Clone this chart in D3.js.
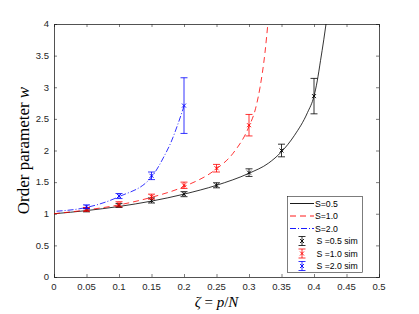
<!DOCTYPE html>
<html>
<head>
<meta charset="utf-8">
<script src="https://cdn.jsdelivr.net/npm/d3@7"></script>
<style>
body { margin: 0; background: #fff; }
svg text { font-family: "Liberation Sans", Arial, sans-serif; }
</style>
</head>
<body>
<svg id="chart" width="419" height="314"></svg>
<script>
// theory curves
var curveS05 = [[0,1],[0.05,1.05],[0.1,1.115],[0.15,1.2],[0.2,1.31],[0.25,1.45],[0.3,1.64],[0.33,1.8],[0.35,1.98],[0.37,2.24],[0.39,2.6],[0.4,2.86],[0.405,3.1],[0.41,3.42],[0.415,3.75],[0.4185,4]];
var curveS10 = [[0,1],[0.05,1.06],[0.1,1.14],[0.15,1.26],[0.2,1.43],[0.25,1.71],[0.275,1.95],[0.3,2.38],[0.31,2.66],[0.317,3.0],[0.3245,3.54],[0.329,4]];
var curveS20 = [[0.004,1.04],[0.05,1.1],[0.1,1.27],[0.15,1.58],[0.17,1.92],[0.18,2.13],[0.19,2.4],[0.2,2.7]];

// simulation points
var simZeta = [0.05, 0.1, 0.15, 0.2, 0.25, 0.3, 0.35, 0.4];
var simS05 = [1.06, 1.13, 1.21, 1.31, 1.45, 1.65, 2.0, 2.86];
var errS05 = [0.03, 0.03, 0.04, 0.04, 0.04, 0.06, 0.1, 0.28];
var simS10 = [1.07, 1.15, 1.27, 1.45, 1.72, 2.4];
var errS10 = [0.03, 0.04, 0.04, 0.05, 0.06, 0.17];
var simS20 = [1.11, 1.28, 1.6, 2.71];
var errS20 = [0.03, 0.04, 0.06, 0.44];

var xTicks = [0,0.05,0.1,0.15,0.2,0.25,0.3,0.35,0.4,0.45,0.5];
var yTicks = [0,0.5,1,1.5,2,2.5,3,3.5,4];
var legendLabels = ["S=0.5","S=1.0","S=2.0","S =0.5 sim","S =1.0 sim","S =2.0 sim"];

var colors = ["#000000", "#ff0000", "#0000ff"];
var dashes = [null, "6,4", "6,2,1,2"];
var axisColor = "#262626";

var svg = d3.select("#chart");
var padL = 54, padR = 379, padT = 24, padB = 277;

var x = d3.scaleLinear().domain([0, 0.5]).range([padL, padR]);
var y = d3.scaleLinear().domain([0, 4]).range([padB, padT]);

svg.append("clipPath").attr("id", "clip")
  .append("rect").attr("x", padL).attr("y", padT).attr("width", padR - padL).attr("height", padB - padT);

// axes, ticks pointing inward on all four sides
svg.append("g").attr("transform", "translate(0," + padB + ")")
  .call(d3.axisTop(x).tickValues(xTicks).tickSize(3).tickFormat(""));
svg.append("g").attr("transform", "translate(0," + padT + ")")
  .call(d3.axisBottom(x).tickValues(xTicks).tickSize(3).tickFormat(""));
svg.append("g").attr("transform", "translate(" + padL + ",0)")
  .call(d3.axisRight(y).tickValues(yTicks).tickSize(3).tickFormat(""));
svg.append("g").attr("transform", "translate(" + padR + ",0)")
  .call(d3.axisLeft(y).tickValues(yTicks).tickSize(3).tickFormat(""));
svg.selectAll(".domain").attr("stroke", axisColor).attr("stroke-width", 0.8);
svg.selectAll(".tick line").attr("stroke", axisColor).attr("stroke-width", 0.6);

svg.selectAll(".xlab").data(xTicks).enter().append("text")
  .attr("x", function(d) { return x(d); })
  .attr("y", padB + 13)
  .attr("text-anchor", "middle")
  .attr("font-size", 9.5)
  .attr("fill", axisColor)
  .text(function(d) { return d; });

svg.selectAll(".ylab").data(yTicks).enter().append("text")
  .attr("x", padL - 5)
  .attr("y", function(d) { return y(d) + 3.3; })
  .attr("text-anchor", "end")
  .attr("font-size", 9.5)
  .attr("fill", axisColor)
  .text(function(d) { return d; });

// axis titles
var xt = svg.append("text")
  .attr("x", (padL + padR) / 2)
  .attr("y", 307)
  .attr("text-anchor", "middle")
  .attr("font-size", 15)
  .style("font-family", "'Liberation Serif', 'DejaVu Serif', serif");
xt.append("tspan").attr("font-style", "italic").text("ζ");
xt.append("tspan").text(" = ");
xt.append("tspan").attr("font-style", "italic").text("p");
xt.append("tspan").text("/");
xt.append("tspan").attr("font-style", "italic").text("N");

var yt = svg.append("text")
  .attr("transform", "translate(29," + ((padT + padB) / 2) + ") rotate(-90)")
  .attr("text-anchor", "middle")
  .attr("font-size", 17)
  .style("font-family", "'Liberation Serif', 'DejaVu Serif', serif");
yt.append("tspan").text("Order parameter ");
yt.append("tspan").attr("font-style", "italic").text("w");

// curves
var line = d3.line()
  .x(function(d) { return x(d[0]); })
  .y(function(d) { return y(d[1]); })
  .curve(d3.curveMonotoneX);

var plot = svg.append("g").attr("clip-path", "url(#clip)");
[curveS05, curveS10, curveS20].forEach(function(c, i) {
  plot.append("path")
    .attr("d", line(c))
    .attr("fill", "none")
    .attr("stroke", colors[i])
    .attr("stroke-width", 0.8)
    .attr("stroke-dasharray", dashes[i]);
});

// error bars with x markers
function drawErr(g, cx, cy, ytop, ybot, color) {
  g.append("line").attr("x1", cx).attr("x2", cx).attr("y1", ytop).attr("y2", ybot)
    .attr("stroke", color).attr("stroke-width", 0.8);
  [ytop, ybot].forEach(function(yy) {
    g.append("line").attr("x1", cx - 3.5).attr("x2", cx + 3.5).attr("y1", yy).attr("y2", yy)
      .attr("stroke", color).attr("stroke-width", 0.8);
  });
  g.append("path")
    .attr("d", "M" + (cx - 2) + "," + (cy - 2) + "L" + (cx + 2) + "," + (cy + 2) +
               "M" + (cx - 2) + "," + (cy + 2) + "L" + (cx + 2) + "," + (cy - 2))
    .attr("stroke", color).attr("stroke-width", 0.9);
}

var sims = [[simS05, errS05], [simS10, errS10], [simS20, errS20]];
sims.forEach(function(s, i) {
  var g = svg.append("g");
  s[0].forEach(function(v, j) {
    drawErr(g, x(simZeta[j]), y(v), y(v + s[1][j]), y(v - s[1][j]), colors[i]);
  });
});

// legend
var lg = svg.append("g");
lg.append("rect").attr("x", 287.5).attr("y", 196.5).attr("width", 75).attr("height", 76)
  .attr("fill", "#fff").attr("stroke", axisColor).attr("stroke-width", 0.6);
legendLabels.forEach(function(t, i) {
  var yy = 203.5 + i * 12.5;
  if (i < 3) {
    lg.append("line").attr("x1", 290).attr("x2", 314).attr("y1", yy).attr("y2", yy)
      .attr("stroke", colors[i]).attr("stroke-width", 0.9)
      .attr("stroke-dasharray", dashes[i]);
    lg.append("text").attr("x", 315).attr("y", yy + 3.2).attr("font-size", 8.7)
      .attr("fill", "#000").text(t);
  } else {
    drawErr(lg, 302, yy, yy - 4.5, yy + 4.5, colors[i - 3]);
    lg.append("text").attr("x", 316.5).attr("y", yy + 3.2).attr("font-size", 8.7)
      .attr("fill", "#000").text(t);
  }
});
</script>
</body>
</html>
